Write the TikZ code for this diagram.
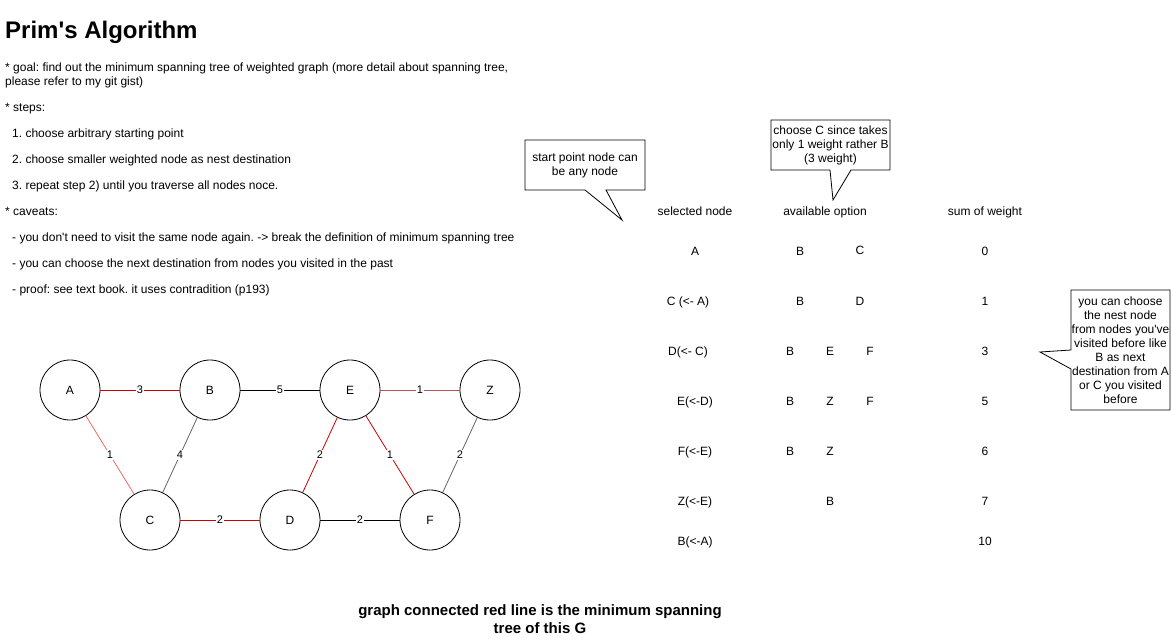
\documentclass[tikz,border=0pt]{standalone}
\usepackage{fontspec}
\setmainfont{Liberation Sans}
\frenchspacing
\begin{document}
\begin{tikzpicture}[x=1pt,y=-1pt,
  txt/.style={anchor=base west,inner sep=0pt,font=\fontsize{12}{14}\selectfont},
  ctxt/.style={anchor=base,inner sep=0pt,font=\fontsize{12}{14}\selectfont},
  vert/.style={circle,draw=black,line width=0.8pt,minimum size=60pt,inner sep=0pt,font=\fontsize{12}{14}\selectfont},
  edge/.style={line width=0.8pt},
  wlab/.style={fill=white,inner sep=1pt,font=\fontsize{11}{13}\selectfont},
  callout/.style={draw=black,line width=0.8pt,fill=white},
  ctext/.style={align=center,inner sep=0pt,font=\fontsize{12}{14}\selectfont}
]
\definecolor{mstred}{HTML}{CC0000}
\definecolor{lightred}{HTML}{EA6B66}
\definecolor{brownred}{HTML}{B85450}
\definecolor{greyedge}{HTML}{666666}
\useasboundingbox[fill=white] (0,0) rectangle (1171,641);

% title
\node[anchor=base west,inner sep=0pt,font=\fontsize{24}{28}\selectfont\bfseries] (title) at (5,38.5) {Prim\textquotesingle s Algorithm};

% description
\node[txt] (g1) at (5,71.3) {* goal: find out the minimum spanning tree of weighted graph (more detail about spanning tree,};
\node[txt] (g2) at (5,85.3) {please refer to my git gist)};
\node[txt] (s0) at (5,111.3) {* steps:};
\node[txt] (s1) at (12,137.3) {1. choose arbitrary starting point};
\node[txt] (s2) at (12,163.3) {2. choose smaller weighted node as nest destination};
\node[txt] (s3) at (12,189.3) {3. repeat step 2) until you traverse all nodes noce.};
\node[txt] (c0) at (5,215.3) {* caveats:};
\node[txt] (c1) at (12,241.3) {- you don\textquotesingle t need to visit the same node again. -> break the definition of minimum spanning tree};
\node[txt] (c2) at (12,267.3) {- you can choose the next destination from nodes you visited in the past};
\node[txt] (c3) at (12,293.3) {- proof: see text book. it uses contradition (p193)};

% graph
\node[vert] (A) at (70,390) {A};
\node[vert] (B) at (210,390) {B};
\node[vert] (E) at (350,390) {E};
\node[vert] (Z) at (490,390) {Z};
\node[vert] (C) at (150,520) {C};
\node[vert] (D) at (290,520) {D};
\node[vert] (F) at (430,520) {F};

\draw[edge,mstred] (A) -- node[wlab,text=black] {3} (B);
\draw[edge,black] (B) -- node[wlab] {5} (E);
\draw[edge,brownred] (E) -- node[wlab,text=black] {1} (Z);
\draw[edge,lightred] (A) -- node[wlab,text=black] {1} (C);
\draw[edge,greyedge] (B) -- node[wlab,text=black] {4} (C);
\draw[edge,mstred] (E) -- node[wlab,text=black] {2} (D);
\draw[edge,mstred] (E) -- node[wlab,text=black] {1} (F);
\draw[edge,greyedge] (Z) -- node[wlab,text=black] {2} (F);
\draw[edge,mstred] (C) -- node[wlab,text=black] {2} (D);
\draw[edge,black] (D) -- node[wlab] {2} (F);

% callouts
\draw[callout] (525,140) -- (645,140) -- (645,190) -- (606,190) -- (622,220) -- (585,190) -- (525,190) -- cycle;
\node[ctext] (co1) at (585,165.5) {start point node can\\be any node};

\draw[callout] (771,120) -- (890,120) -- (890,170) -- (851,170) -- (833,200) -- (830,170) -- (771,170) -- cycle;
\node[ctext] (co2) at (830.5,145.5) {choose C since takes\\only 1 weight rather B\\(3 weight)};

\draw[callout] (1071,290) -- (1170,290) -- (1170,410) -- (1071,410) -- (1071,369) -- (1040,352) -- (1071,350) -- cycle;
\node[ctext] (co3) at (1120.5,350.5) {you can choose\\the nest node\\from nodes you\textquotesingle ve\\visited before like\\B as next\\destination from A\\or C you visited\\before};

% table headers
\node[ctxt] (h1) at (695,215.3) {selected node};
\node[ctxt] (h2) at (825,215.3) {available option};
\node[ctxt] (h3) at (985,215.3) {sum of weight};

% rows
\node[ctxt] (r1a) at (695,255.3) {A};
\node[ctxt] (r1b) at (800,255.3) {B};
\node[ctxt] (r1c) at (860,254.3) {C};
\node[ctxt] (r1s) at (985,255.3) {0};

\node[ctxt] (r2a) at (688,305.3) {C (<- A)};
\node[ctxt] (r2b) at (800,305.3) {B};
\node[ctxt] (r2c) at (860,305.3) {D};
\node[ctxt] (r2s) at (985,305.3) {1};

\node[ctxt] (r3a) at (688,355.3) {D(<- C)};
\node[ctxt] (r3b) at (790,355.3) {B};
\node[ctxt] (r3c) at (830,355.3) {E};
\node[ctxt] (r3d) at (870,355.3) {F};
\node[ctxt] (r3s) at (985,355.3) {3};

\node[ctxt] (r4a) at (695,405.3) {E(<-D)};
\node[ctxt] (r4b) at (790,405.3) {B};
\node[ctxt] (r4c) at (830,405.3) {Z};
\node[ctxt] (r4d) at (870,405.3) {F};
\node[ctxt] (r4s) at (985,405.3) {5};

\node[ctxt] (r5a) at (695,455.3) {F(<-E)};
\node[ctxt] (r5b) at (790,455.3) {B};
\node[ctxt] (r5c) at (830,455.3) {Z};
\node[ctxt] (r5s) at (985,455.3) {6};

\node[ctxt] (r6a) at (695,505.3) {Z(<-E)};
\node[ctxt] (r6c) at (830,505.3) {B};
\node[ctxt] (r6s) at (985,505.3) {7};

\node[ctxt] (r7a) at (695,545.3) {B(<-A)};
\node[ctxt] (r7s) at (985,545.3) {10};

% caption
\node[align=center,inner sep=0pt,font=\fontsize{15}{18}\selectfont\bfseries] (cap) at (540,619.5) {graph connected red line is the minimum spanning\\tree of this G};
\end{tikzpicture}
\end{document}
